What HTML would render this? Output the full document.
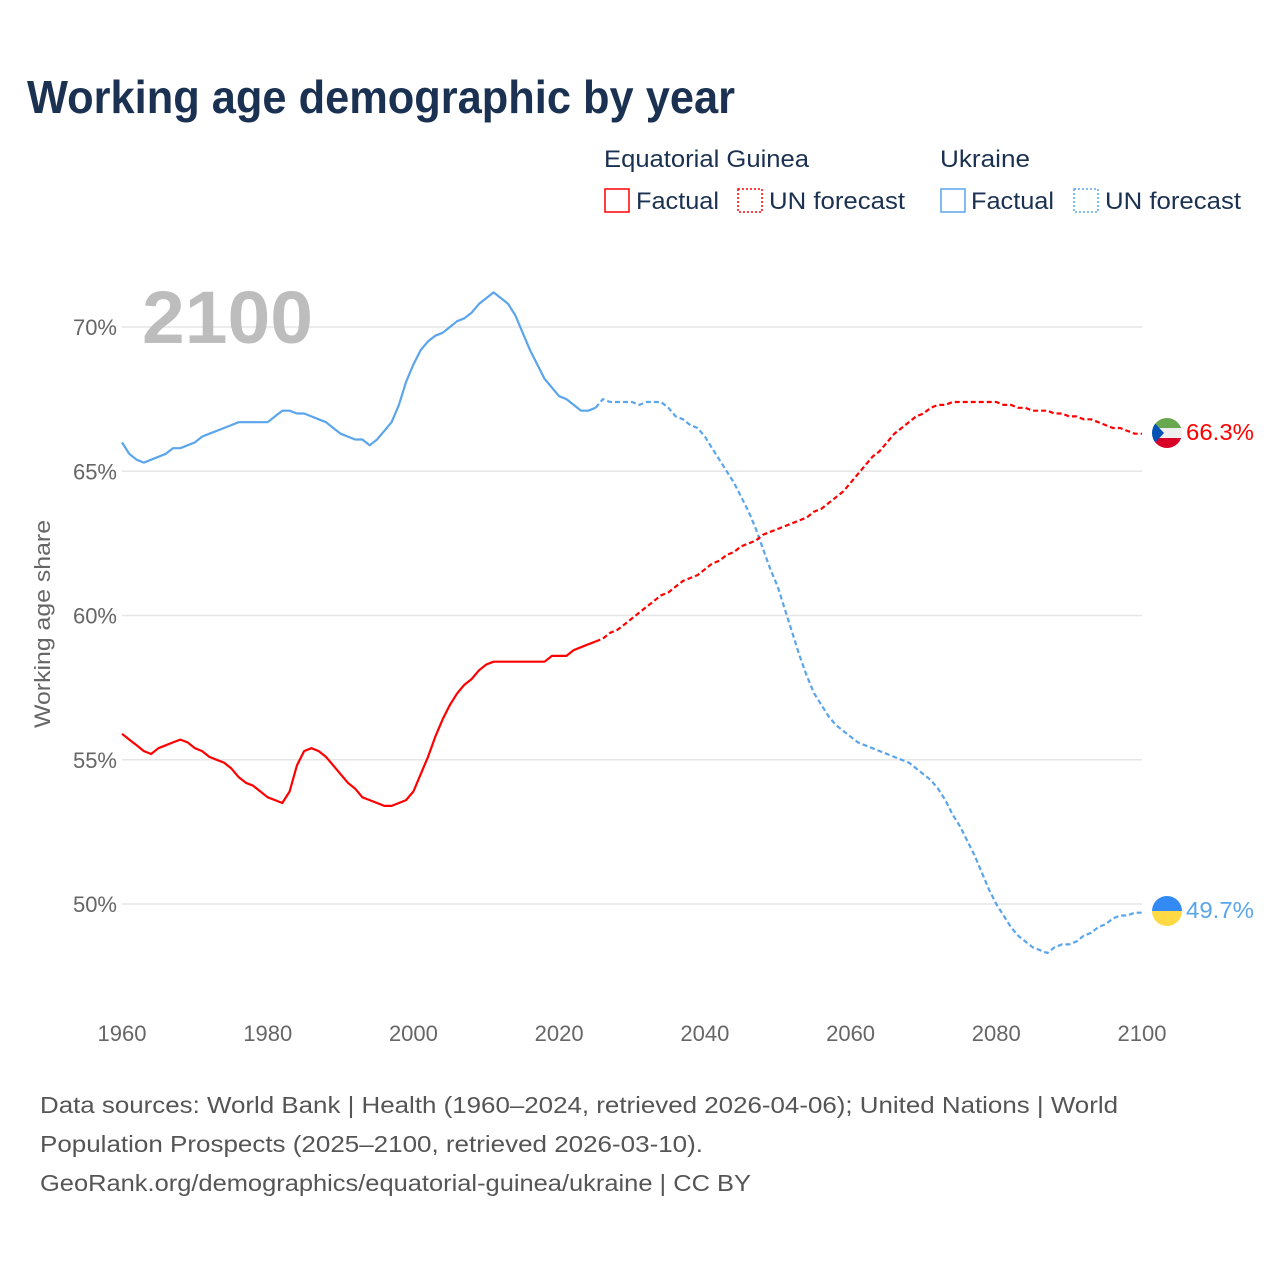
<!DOCTYPE html>
<html><head><meta charset="utf-8"><style>
body{margin:0;background:#fff;font-family:"Liberation Sans",sans-serif}
svg{display:block}
</style></head><body>
<svg width="1280" height="1280" viewBox="0 0 1280 1280">
<text x="27" y="113" font-size="46" font-weight="bold" fill="#1b3152" textLength="708" lengthAdjust="spacingAndGlyphs">Working age demographic by year</text>
<g font-size="24" fill="#1b3152">
<text x="604" y="167" textLength="205" lengthAdjust="spacingAndGlyphs">Equatorial Guinea</text>
<rect x="605" y="189" width="24" height="23" fill="none" stroke="#ff0000" stroke-width="1.5"/>
<text x="636" y="209" textLength="83" lengthAdjust="spacingAndGlyphs">Factual</text>
<rect x="738" y="189" width="24" height="23" fill="none" stroke="#ff0000" stroke-width="1.5" stroke-dasharray="2,2"/>
<text x="769" y="209" textLength="136" lengthAdjust="spacingAndGlyphs">UN forecast</text>
<text x="940" y="167" textLength="90" lengthAdjust="spacingAndGlyphs">Ukraine</text>
<rect x="941" y="189" width="24" height="23" fill="none" stroke="#5aa5ec" stroke-width="1.5"/>
<text x="971" y="209" textLength="83" lengthAdjust="spacingAndGlyphs">Factual</text>
<rect x="1074" y="189" width="24" height="23" fill="none" stroke="#5aa5ec" stroke-width="1.5" stroke-dasharray="2,2"/>
<text x="1105" y="209" textLength="136" lengthAdjust="spacingAndGlyphs">UN forecast</text>
</g>
<g id="grid"></g>
<text x="142" y="343" font-size="74" font-weight="bold" fill="#bdbdbd" textLength="171" lengthAdjust="spacingAndGlyphs">2100</text>
<text transform="translate(50,624) rotate(-90)" text-anchor="middle" font-size="22" fill="#666" textLength="208" lengthAdjust="spacingAndGlyphs">Working age share</text>
<g id="series"></g>
<g>
<clipPath id="c1"><circle cx="1167" cy="433" r="15"/></clipPath>
<g clip-path="url(#c1)"><rect x="1150" y="418" width="34" height="10" fill="#6aa84f"/><rect x="1150" y="428" width="34" height="10" fill="#eee"/><rect x="1150" y="438" width="34" height="11" fill="#d80027"/><polygon points="1150,418 1164,433 1150,448" fill="#0052b4"/></g>
</g>
<g>
<clipPath id="c2"><circle cx="1167" cy="911" r="15"/></clipPath>
<g clip-path="url(#c2)"><rect x="1150" y="895" width="34" height="16" fill="#338af3"/><rect x="1150" y="911" width="34" height="16" fill="#ffda44"/></g>
</g>
<text x="1186" y="440" font-size="23" fill="#ff0000" textLength="68" lengthAdjust="spacingAndGlyphs">66.3%</text>
<text x="1186" y="918" font-size="23" fill="#5aa5ec" textLength="68" lengthAdjust="spacingAndGlyphs">49.7%</text>
<g font-size="23" fill="#555">
<text x="40" y="1113" textLength="1078" lengthAdjust="spacingAndGlyphs">Data sources: World Bank | Health (1960–2024, retrieved 2026-04-06); United Nations | World</text>
<text x="40" y="1152" textLength="663" lengthAdjust="spacingAndGlyphs">Population Prospects (2025–2100, retrieved 2026-03-10).</text>
<text x="40" y="1191" textLength="711" lengthAdjust="spacingAndGlyphs">GeoRank.org/demographics/equatorial-guinea/ukraine | CC BY</text>
</g>
</svg>
<script>
const yTicks=[50,55,60,65,70];
const xTicks=[1960,1980,2000,2020,2040,2060,2080,2100];
const uaFactual=[66.0,65.6,65.4,65.3,65.4,65.5,65.6,65.8,65.8,65.9,66.0,66.2,66.3,66.4,66.5,66.6,66.7,66.7,66.7,66.7,66.7,66.9,67.1,67.1,67.0,67.0,66.9,66.8,66.7,66.5,66.3,66.2,66.1,66.1,65.9,66.1,66.4,66.7,67.3,68.1,68.7,69.2,69.5,69.7,69.8,70.0,70.2,70.3,70.5,70.8,71.0,71.2,71.0,70.8,70.4,69.8,69.2,68.7,68.2,67.9,67.6,67.5,67.3,67.1,67.1,67.2];
const uaForecast=[67.2,67.5,67.4,67.4,67.4,67.4,67.3,67.4,67.4,67.4,67.2,66.9,66.8,66.6,66.5,66.2,65.8,65.4,65.0,64.6,64.1,63.6,63.0,62.3,61.6,61.0,60.2,59.4,58.6,57.9,57.3,56.9,56.5,56.2,56.0,55.8,55.6,55.5,55.4,55.3,55.2,55.1,55.0,54.9,54.7,54.5,54.3,54.0,53.6,53.1,52.7,52.2,51.7,51.1,50.5,50.0,49.6,49.2,48.9,48.7,48.5,48.4,48.3,48.5,48.6,48.6,48.7,48.9,49.0,49.2,49.3,49.5,49.6,49.6,49.7,49.7];
const egFactual=[55.9,55.7,55.5,55.3,55.2,55.4,55.5,55.6,55.7,55.6,55.4,55.3,55.1,55.0,54.9,54.7,54.4,54.2,54.1,53.9,53.7,53.6,53.5,53.9,54.8,55.3,55.4,55.3,55.1,54.8,54.5,54.2,54.0,53.7,53.6,53.5,53.4,53.4,53.5,53.6,53.9,54.5,55.1,55.8,56.4,56.9,57.3,57.6,57.8,58.1,58.3,58.4,58.4,58.4,58.4,58.4,58.4,58.4,58.4,58.6,58.6,58.6,58.8,58.9,59.0,59.1];
const egForecast=[59.1,59.2,59.4,59.5,59.7,59.9,60.1,60.3,60.5,60.7,60.8,61.0,61.2,61.3,61.4,61.6,61.8,61.9,62.1,62.2,62.4,62.5,62.6,62.8,62.9,63.0,63.1,63.2,63.3,63.4,63.6,63.7,63.9,64.1,64.3,64.6,64.9,65.2,65.5,65.7,66.0,66.3,66.5,66.7,66.9,67.0,67.2,67.3,67.3,67.4,67.4,67.4,67.4,67.4,67.4,67.4,67.3,67.3,67.2,67.2,67.1,67.1,67.1,67.0,67.0,66.9,66.9,66.8,66.8,66.7,66.6,66.5,66.5,66.4,66.3,66.3];
const X=y=>122+(y-1960)*(1020/140);
const Y=v=>904-(v-50)*(577/20);
const NS='http://www.w3.org/2000/svg';
const grid=document.getElementById('grid');
yTicks.forEach(t=>{
 const l=document.createElementNS(NS,'line');
 l.setAttribute('x1',122);l.setAttribute('x2',1142);l.setAttribute('y1',Y(t));l.setAttribute('y2',Y(t));
 l.setAttribute('stroke','#e6e6e6');l.setAttribute('stroke-width','1.5');
 
 
 grid.appendChild(l);
 const tx=document.createElementNS(NS,'text');
 tx.setAttribute('x',117);tx.setAttribute('y',Y(t)+8);tx.setAttribute('text-anchor','end');
 tx.setAttribute('font-size','22');tx.setAttribute('fill','#666');tx.textContent=t+'%';
 
 
 grid.appendChild(tx);
});
xTicks.forEach(t=>{
 const tx=document.createElementNS(NS,'text');
 tx.setAttribute('x',X(t));tx.setAttribute('y',1041);tx.setAttribute('text-anchor','middle');
 tx.setAttribute('font-size','22');tx.setAttribute('fill','#666');tx.textContent=t;
 
 
 grid.appendChild(tx);
});
const ser=document.getElementById('series');
function line(arr,start,color,dash,name){
 const p=document.createElementNS(NS,'path');
 p.setAttribute('d',arr.map((v,i)=>(i?'L':'M')+X(start+i).toFixed(1)+','+Y(v).toFixed(1)).join(''));
 p.setAttribute('fill','none');p.setAttribute('stroke',color);p.setAttribute('stroke-width','2.2');
 p.setAttribute('stroke-linejoin','round');
 if(dash)p.setAttribute('stroke-dasharray','5,3');
 
 
 ser.appendChild(p);
}
line(uaFactual,1960,'#5aa5ec',false,'ukraine-factual-line');
line(uaForecast,2025,'#5aa5ec',true,'ukraine-forecast-line');
line(egFactual,1960,'#ff0000',false,'eq-guinea-factual-line');
line(egForecast,2025,'#ff0000',true,'eq-guinea-forecast-line');
</script>
</body></html>
